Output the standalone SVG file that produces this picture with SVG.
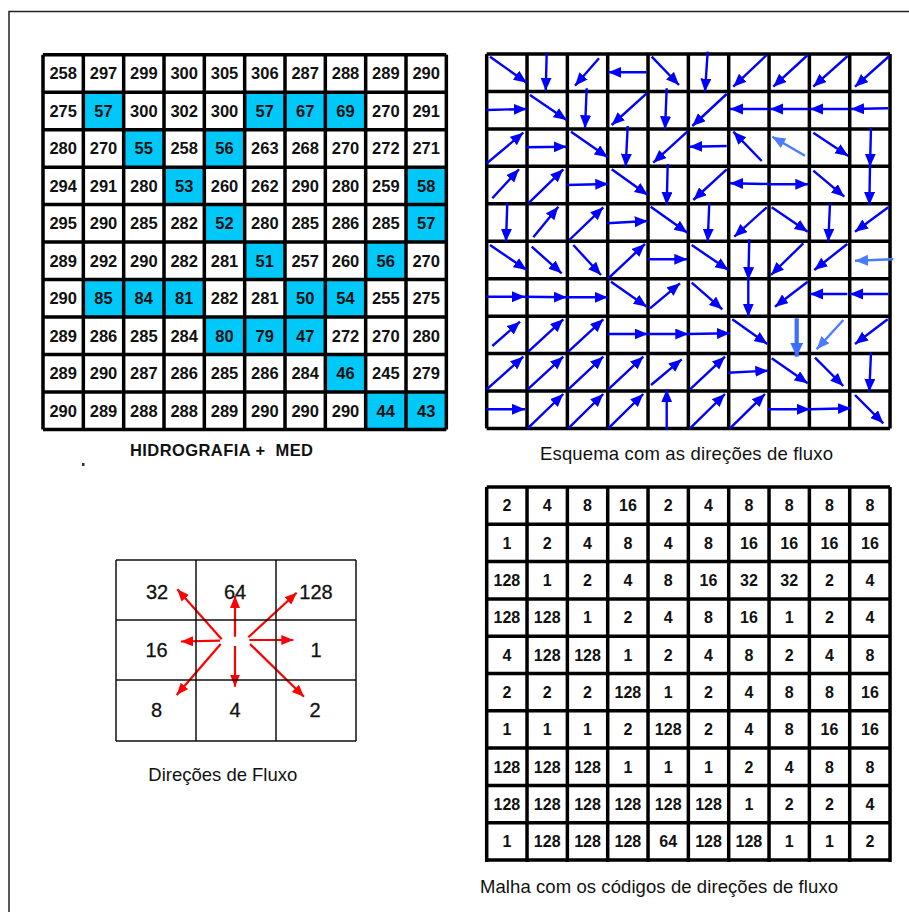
<svg xmlns="http://www.w3.org/2000/svg" width="909" height="912" viewBox="0 0 909 912">
<style>
text{font-family:"Liberation Sans",Arial,sans-serif;fill:#111}
.n{font-size:16.5px;font-weight:bold;text-anchor:middle}
.c{font-size:16px;font-weight:bold;text-anchor:middle}
.l{font-size:20px;text-anchor:middle;stroke:#111;stroke-width:0.3}
.cap{font-size:18.5px}
.grid{fill:none;stroke:#000;stroke-width:3.5}
.thin{fill:none;stroke:#111;stroke-width:1.5}
.cy{fill:#00C8F8}
.fa{stroke:#0000FF;stroke-width:2.4;marker-end:url(#hb)}
.fl{stroke:#4A7CFF;stroke-width:2.4;marker-end:url(#hl)}
.ft{stroke:#3C6EFF;stroke-width:4.2;marker-end:url(#ht)}
.ra{stroke:#FF0000;stroke-width:2.2;marker-end:url(#hr)}
</style>
<defs>
<marker id="hb" markerUnits="userSpaceOnUse" markerWidth="14" markerHeight="12" refX="13" refY="5.5" orient="auto"><path d="M0,0 L13,5.5 L0,11 z" fill="#0000FF"/></marker>
<marker id="hl" markerUnits="userSpaceOnUse" markerWidth="14" markerHeight="12" refX="13" refY="5.5" orient="auto"><path d="M0,0 L13,5.5 L0,11 z" fill="#4A7CFF"/></marker>
<marker id="ht" markerUnits="userSpaceOnUse" markerWidth="15" markerHeight="14" refX="14" refY="6.5" orient="auto"><path d="M0,0 L14,6.5 L0,13 z" fill="#3C6EFF"/></marker>
<marker id="hr" markerUnits="userSpaceOnUse" markerWidth="13" markerHeight="11" refX="12" refY="5" orient="auto"><path d="M0,0 L12,5 L0,10 z" fill="#FF0000"/></marker>
</defs>
<rect width="909" height="912" fill="#fff"/>
<path id="frame" d="M9,912 V11.5 H909" fill="none" stroke="#222" stroke-width="1.5"/>

<g id="elevation-grid">
<g id="elevation-cells">
<rect class="cy" x="83.33" y="92.18" width="40.33" height="37.48"/>
<rect class="cy" x="244.67" y="92.18" width="40.33" height="37.48"/>
<rect class="cy" x="285" y="92.18" width="40.33" height="37.48"/>
<rect class="cy" x="325.33" y="92.18" width="40.33" height="37.48"/>
<rect class="cy" x="123.67" y="129.66" width="40.33" height="37.48"/>
<rect class="cy" x="204.33" y="129.66" width="40.33" height="37.48"/>
<rect class="cy" x="164" y="167.14" width="40.33" height="37.48"/>
<rect class="cy" x="406" y="167.14" width="40.33" height="37.48"/>
<rect class="cy" x="204.33" y="204.62" width="40.33" height="37.48"/>
<rect class="cy" x="406" y="204.62" width="40.33" height="37.48"/>
<rect class="cy" x="244.67" y="242.1" width="40.33" height="37.48"/>
<rect class="cy" x="365.67" y="242.1" width="40.33" height="37.48"/>
<rect class="cy" x="83.33" y="279.58" width="40.33" height="37.48"/>
<rect class="cy" x="123.67" y="279.58" width="40.33" height="37.48"/>
<rect class="cy" x="164" y="279.58" width="40.33" height="37.48"/>
<rect class="cy" x="285" y="279.58" width="40.33" height="37.48"/>
<rect class="cy" x="325.33" y="279.58" width="40.33" height="37.48"/>
<rect class="cy" x="204.33" y="317.06" width="40.33" height="37.48"/>
<rect class="cy" x="244.67" y="317.06" width="40.33" height="37.48"/>
<rect class="cy" x="285" y="317.06" width="40.33" height="37.48"/>
<rect class="cy" x="325.33" y="354.54" width="40.33" height="37.48"/>
<rect class="cy" x="365.67" y="392.02" width="40.33" height="37.48"/>
<rect class="cy" x="406" y="392.02" width="40.33" height="37.48"/>
</g>
<path class="grid" d="M43,54.7V429.5M83.33,54.7V429.5M123.67,54.7V429.5M164,54.7V429.5M204.33,54.7V429.5M244.67,54.7V429.5M285,54.7V429.5M325.33,54.7V429.5M365.67,54.7V429.5M406,54.7V429.5M446.33,54.7V429.5M43,54.7H446.33M43,92.18H446.33M43,129.66H446.33M43,167.14H446.33M43,204.62H446.33M43,242.1H446.33M43,279.58H446.33M43,317.06H446.33M43,354.54H446.33M43,392.02H446.33M43,429.5H446.33"/>
<g id="elevation-values">
<text class="n" y="79.2"><tspan x="63.2">258</tspan><tspan x="103.5">297</tspan><tspan x="143.8">299</tspan><tspan x="184.2">300</tspan><tspan x="224.5">305</tspan><tspan x="264.8">306</tspan><tspan x="305.2">287</tspan><tspan x="345.5">288</tspan><tspan x="385.8">289</tspan><tspan x="426.2">290</tspan></text>
<text class="n" y="116.7"><tspan x="63.2">275</tspan><tspan x="103.5">57</tspan><tspan x="143.8">300</tspan><tspan x="184.2">302</tspan><tspan x="224.5">300</tspan><tspan x="264.8">57</tspan><tspan x="305.2">67</tspan><tspan x="345.5">69</tspan><tspan x="385.8">270</tspan><tspan x="426.2">291</tspan></text>
<text class="n" y="154.2"><tspan x="63.2">280</tspan><tspan x="103.5">270</tspan><tspan x="143.8">55</tspan><tspan x="184.2">258</tspan><tspan x="224.5">56</tspan><tspan x="264.8">263</tspan><tspan x="305.2">268</tspan><tspan x="345.5">270</tspan><tspan x="385.8">272</tspan><tspan x="426.2">271</tspan></text>
<text class="n" y="191.7"><tspan x="63.2">294</tspan><tspan x="103.5">291</tspan><tspan x="143.8">280</tspan><tspan x="184.2">53</tspan><tspan x="224.5">260</tspan><tspan x="264.8">262</tspan><tspan x="305.2">290</tspan><tspan x="345.5">280</tspan><tspan x="385.8">259</tspan><tspan x="426.2">58</tspan></text>
<text class="n" y="229.2"><tspan x="63.2">295</tspan><tspan x="103.5">290</tspan><tspan x="143.8">285</tspan><tspan x="184.2">282</tspan><tspan x="224.5">52</tspan><tspan x="264.8">280</tspan><tspan x="305.2">285</tspan><tspan x="345.5">286</tspan><tspan x="385.8">285</tspan><tspan x="426.2">57</tspan></text>
<text class="n" y="266.6"><tspan x="63.2">289</tspan><tspan x="103.5">292</tspan><tspan x="143.8">290</tspan><tspan x="184.2">282</tspan><tspan x="224.5">281</tspan><tspan x="264.8">51</tspan><tspan x="305.2">257</tspan><tspan x="345.5">260</tspan><tspan x="385.8">56</tspan><tspan x="426.2">270</tspan></text>
<text class="n" y="304.1"><tspan x="63.2">290</tspan><tspan x="103.5">85</tspan><tspan x="143.8">84</tspan><tspan x="184.2">81</tspan><tspan x="224.5">282</tspan><tspan x="264.8">281</tspan><tspan x="305.2">50</tspan><tspan x="345.5">54</tspan><tspan x="385.8">255</tspan><tspan x="426.2">275</tspan></text>
<text class="n" y="341.6"><tspan x="63.2">289</tspan><tspan x="103.5">286</tspan><tspan x="143.8">285</tspan><tspan x="184.2">284</tspan><tspan x="224.5">80</tspan><tspan x="264.8">79</tspan><tspan x="305.2">47</tspan><tspan x="345.5">272</tspan><tspan x="385.8">270</tspan><tspan x="426.2">280</tspan></text>
<text class="n" y="379.1"><tspan x="63.2">289</tspan><tspan x="103.5">290</tspan><tspan x="143.8">287</tspan><tspan x="184.2">286</tspan><tspan x="224.5">285</tspan><tspan x="264.8">286</tspan><tspan x="305.2">284</tspan><tspan x="345.5">46</tspan><tspan x="385.8">245</tspan><tspan x="426.2">279</tspan></text>
<text class="n" y="416.6"><tspan x="63.2">290</tspan><tspan x="103.5">289</tspan><tspan x="143.8">288</tspan><tspan x="184.2">288</tspan><tspan x="224.5">289</tspan><tspan x="264.8">290</tspan><tspan x="305.2">290</tspan><tspan x="345.5">290</tspan><tspan x="385.8">44</tspan><tspan x="426.2">43</tspan></text>
</g>
<text id="cap-elevation" x="130" y="456" font-size="16.5" font-weight="bold" textLength="183" xml:space="preserve">HIDROGRAFIA +  MED</text>
<rect x="82" y="463" width="2.5" height="3" fill="#333"/>
</g>

<g id="flow-grid">
<path class="grid" d="M486.7,54V428.5M527.03,54V428.5M567.37,54V428.5M607.7,54V428.5M648.03,54V428.5M688.37,54V428.5M728.7,54V428.5M769.03,54V428.5M809.37,54V428.5M849.7,54V428.5M890.03,54V428.5M486.7,54H890.03M486.7,91.45H890.03M486.7,128.9H890.03M486.7,166.35H890.03M486.7,203.8H890.03M486.7,241.25H890.03M486.7,278.7H890.03M486.7,316.15H890.03M486.7,353.6H890.03M486.7,391.05H890.03M486.7,428.5H890.03"/>
<text id="cap-flow" class="cap" x="540" y="460" textLength="293">Esquema com as direções de fluxo</text>
</g>

<g id="connectors">
<g id="flow-arrows">
<line class="fa" x1="490" y1="56.7" x2="526.7" y2="82.7"/>
<line class="fa" x1="546.7" y1="53.3" x2="545.7" y2="90.7"/>
<line class="fa" x1="599" y1="58.3" x2="575" y2="85.7"/>
<line class="fa" x1="646.7" y1="72.3" x2="608.3" y2="72.3"/>
<line class="fa" x1="651.7" y1="56.7" x2="679" y2="85"/>
<line class="fa" x1="707.7" y1="51.7" x2="705" y2="91.7"/>
<line class="fa" x1="766.7" y1="55" x2="733.3" y2="86.7"/>
<line class="fa" x1="807.7" y1="55" x2="773.3" y2="86.7"/>
<line class="fa" x1="847.7" y1="56" x2="813.3" y2="86.7"/>
<line class="fa" x1="889.3" y1="56" x2="855" y2="86.7"/>

<line class="fa" x1="486.7" y1="110" x2="526.7" y2="109"/>
<line class="fa" x1="530" y1="95" x2="566.7" y2="120"/>
<line class="fa" x1="586.7" y1="88.3" x2="585" y2="128.3"/>
<line class="fa" x1="646.7" y1="93.3" x2="611.7" y2="125"/>
<line class="fa" x1="666.7" y1="88.3" x2="665" y2="129.3"/>
<line class="fa" x1="726.7" y1="94" x2="692.3" y2="126"/>
<line class="fa" x1="768.3" y1="109" x2="730" y2="109"/>
<line class="fa" x1="808.3" y1="109" x2="770" y2="109"/>
<line class="fa" x1="848.3" y1="109" x2="810" y2="109"/>
<line class="fa" x1="888.3" y1="108.3" x2="851" y2="109"/>

<line class="fa" x1="486.7" y1="163.3" x2="523.3" y2="132.7"/>
<line class="fa" x1="525.7" y1="147.3" x2="566.7" y2="146.7"/>
<line class="fa" x1="571" y1="131.7" x2="607.7" y2="157.3"/>
<line class="fa" x1="627.7" y1="126" x2="625.7" y2="166.7"/>
<line class="fa" x1="687.3" y1="131.7" x2="653.3" y2="162.7"/>
<line class="fa" x1="726.7" y1="146" x2="689.3" y2="146.7"/>
<line class="fa" x1="761.7" y1="161" x2="733.3" y2="131.7"/>
<line class="fl" x1="805" y1="155.7" x2="772.3" y2="136.7"/>
<line class="fa" x1="813.3" y1="132.7" x2="848.3" y2="156"/>
<line class="fa" x1="871" y1="127.7" x2="870" y2="166.7"/>

<line class="fa" x1="492.3" y1="198.3" x2="519" y2="169.3"/>
<line class="fa" x1="528.3" y1="203.3" x2="563.3" y2="169.3"/>
<line class="fa" x1="566.7" y1="185" x2="608.3" y2="184"/>
<line class="fa" x1="611.7" y1="169.3" x2="647.7" y2="195"/>
<line class="fa" x1="667.7" y1="164" x2="666.7" y2="205"/>
<line class="fa" x1="726.7" y1="169.3" x2="693.3" y2="200"/>
<line class="fa" x1="767.7" y1="184" x2="730" y2="183.3"/>
<line class="fa" x1="768.3" y1="184.3" x2="808.3" y2="184.3"/>
<line class="fa" x1="813.3" y1="170.7" x2="844.3" y2="196.7"/>
<line class="fa" x1="870" y1="166.7" x2="869.3" y2="205"/>

<line class="fa" x1="507.3" y1="202.7" x2="506" y2="241.7"/>
<line class="fa" x1="533.3" y1="237.3" x2="558.3" y2="206.7"/>
<line class="fa" x1="569.3" y1="240" x2="603.3" y2="207.3"/>
<line class="fa" x1="606.7" y1="223.3" x2="647.7" y2="221"/>
<line class="fa" x1="650.7" y1="206.7" x2="687.3" y2="232.7"/>
<line class="fa" x1="709.3" y1="203.3" x2="707.7" y2="241.7"/>
<line class="fa" x1="766.7" y1="207.3" x2="734.3" y2="236.7"/>
<line class="fa" x1="771.7" y1="207.3" x2="807.7" y2="231.7"/>
<line class="fa" x1="830" y1="203.3" x2="828.3" y2="241.7"/>
<line class="fa" x1="888.3" y1="207.3" x2="855" y2="231.7"/>

<line class="fa" x1="490" y1="245" x2="526.7" y2="270"/>
<line class="fa" x1="531.7" y1="246.7" x2="561.7" y2="273.3"/>
<line class="fa" x1="573.3" y1="245" x2="601" y2="275"/>
<line class="fa" x1="608.3" y1="278.3" x2="645" y2="244"/>
<line class="fa" x1="647.7" y1="259.3" x2="687.3" y2="259.3"/>
<line class="fa" x1="691.7" y1="245" x2="728.3" y2="270"/>
<line class="fa" x1="749.3" y1="239.3" x2="748.3" y2="280"/>
<line class="fa" x1="803.3" y1="243.3" x2="771" y2="275"/>
<line class="fa" x1="847.3" y1="244" x2="814.3" y2="270"/>
<line class="fl" x1="893.3" y1="259.3" x2="855" y2="260.7"/>

<line class="fa" x1="486.7" y1="296.7" x2="525" y2="296.7"/>
<line class="fa" x1="525" y1="296.7" x2="566.7" y2="297.3"/>
<line class="fa" x1="566.7" y1="297.3" x2="607.7" y2="297.3"/>
<line class="fa" x1="611" y1="281.7" x2="646.7" y2="306.7"/>
<line class="fa" x1="650" y1="308.3" x2="680" y2="283.3"/>
<line class="fa" x1="691.7" y1="282.7" x2="722.3" y2="309.3"/>
<line class="fa" x1="748.3" y1="280" x2="748.3" y2="316.7"/>
<line class="fa" x1="807.7" y1="281.7" x2="775" y2="306.7"/>
<line class="fa" x1="847.3" y1="294" x2="810" y2="294"/>
<line class="fa" x1="888.3" y1="294" x2="850" y2="294"/>

<line class="fa" x1="492.3" y1="346" x2="520" y2="321.7"/>
<line class="fa" x1="528.3" y1="351.7" x2="563.3" y2="319.3"/>
<line class="fa" x1="568.3" y1="351.7" x2="603.3" y2="319.3"/>
<line class="fa" x1="607.7" y1="334" x2="647.7" y2="334"/>
<line class="fa" x1="647.7" y1="334" x2="688.3" y2="334"/>
<line class="fa" x1="688.3" y1="334" x2="730" y2="333.3"/>
<line class="fa" x1="732.3" y1="319.3" x2="767.3" y2="344"/>
<line class="ft" x1="796.7" y1="318.3" x2="796.7" y2="356.7"/>
<line class="fl" x1="843.3" y1="320" x2="816.7" y2="349.3"/>
<line class="fa" x1="887.7" y1="319.3" x2="855" y2="344"/>

<line class="fa" x1="486.7" y1="389.3" x2="523.3" y2="356.7"/>
<line class="fa" x1="527.7" y1="389.3" x2="563.3" y2="356.7"/>
<line class="fa" x1="568.3" y1="389.3" x2="603.3" y2="356.7"/>
<line class="fa" x1="608.3" y1="389.3" x2="643.3" y2="356.7"/>
<line class="fa" x1="651" y1="385" x2="681.7" y2="359.3"/>
<line class="fa" x1="690" y1="389.3" x2="725" y2="356.7"/>
<line class="fa" x1="727.7" y1="372.7" x2="768.3" y2="370.7"/>
<line class="fa" x1="771.7" y1="358.3" x2="807.7" y2="383.3"/>
<line class="fa" x1="815" y1="357.7" x2="843.3" y2="386"/>
<line class="fa" x1="871" y1="352.7" x2="869.3" y2="391.7"/>

<line class="fa" x1="486.7" y1="409.3" x2="525" y2="409.3"/>
<line class="fa" x1="527.7" y1="428.3" x2="563.3" y2="394"/>
<line class="fa" x1="568.3" y1="428.3" x2="603.3" y2="394"/>
<line class="fa" x1="608.3" y1="428.3" x2="643.3" y2="394"/>
<line class="fa" x1="666.7" y1="430" x2="666.7" y2="389.3"/>
<line class="fa" x1="690" y1="428.3" x2="725" y2="394"/>
<line class="fa" x1="730" y1="428.3" x2="765" y2="394"/>
<line class="fa" x1="767.7" y1="409.3" x2="810" y2="409.3"/>
<line class="fa" x1="810" y1="409.3" x2="851" y2="408.3"/>
<line class="fa" x1="855" y1="395" x2="883.3" y2="423.3"/>
</g>
<g id="legend-arrows">
<line class="ra" x1="221.7" y1="639.3" x2="177.3" y2="589.3"/>
<line class="ra" x1="235" y1="636.7" x2="235" y2="596"/>
<line class="ra" x1="248.3" y1="637.3" x2="296.7" y2="592.7"/>
<line class="ra" x1="220" y1="640.7" x2="181" y2="641.5"/>
<line class="ra" x1="249.3" y1="640" x2="293.3" y2="640"/>
<line class="ra" x1="220.7" y1="644" x2="176.7" y2="695"/>
<line class="ra" x1="235" y1="646" x2="235" y2="686.7"/>
<line class="ra" x1="250" y1="644" x2="304" y2="696.7"/>
</g>
</g>

<g id="legend">
<path class="thin" d="M116,560H356M116,620H356M116,680H356M116,741H356M116,560V741M196,560V741M276,560V741M356,560V741"/>
<text class="l" y="599.3"><tspan x="157">32</tspan><tspan x="235">64</tspan><tspan x="316">128</tspan></text>
<text class="l" y="657.3"><tspan x="156.5">16</tspan><tspan x="316">1</tspan></text>
<text class="l" y="717.3"><tspan x="156.5">8</tspan><tspan x="235">4</tspan><tspan x="315">2</tspan></text>
<text id="cap-legend" class="cap" x="148.3" y="780.5" textLength="149">Direções de Fluxo</text>
</g>

<g id="code-grid">
<path class="grid" d="M486.7,487V862M527.03,487V862M567.37,487V862M607.7,487V862M648.03,487V862M688.37,487V862M728.7,487V862M769.03,487V862M809.37,487V862M849.7,487V862M890.03,487V862M486.7,487H890.03M486.7,524.3H890.03M486.7,561.6H890.03M486.7,598.9H890.03M486.7,636.2H890.03M486.7,673.5H890.03M486.7,710.8H890.03M486.7,748.1H890.03M486.7,785.4H890.03M486.7,822.7H890.03M486.7,860H890.03"/>
<g id="code-values">
<text class="c" y="511.4"><tspan x="506.9">2</tspan><tspan x="547.2">4</tspan><tspan x="587.5">8</tspan><tspan x="627.9">16</tspan><tspan x="668.2">2</tspan><tspan x="708.5">4</tspan><tspan x="748.9">8</tspan><tspan x="789.2">8</tspan><tspan x="829.5">8</tspan><tspan x="869.9">8</tspan></text>
<text class="c" y="548.7"><tspan x="506.9">1</tspan><tspan x="547.2">2</tspan><tspan x="587.5">4</tspan><tspan x="627.9">8</tspan><tspan x="668.2">4</tspan><tspan x="708.5">8</tspan><tspan x="748.9">16</tspan><tspan x="789.2">16</tspan><tspan x="829.5">16</tspan><tspan x="869.9">16</tspan></text>
<text class="c" y="586"><tspan x="506.9">128</tspan><tspan x="547.2">1</tspan><tspan x="587.5">2</tspan><tspan x="627.9">4</tspan><tspan x="668.2">8</tspan><tspan x="708.5">16</tspan><tspan x="748.9">32</tspan><tspan x="789.2">32</tspan><tspan x="829.5">2</tspan><tspan x="869.9">4</tspan></text>
<text class="c" y="623.3"><tspan x="506.9">128</tspan><tspan x="547.2">128</tspan><tspan x="587.5">1</tspan><tspan x="627.9">2</tspan><tspan x="668.2">4</tspan><tspan x="708.5">8</tspan><tspan x="748.9">16</tspan><tspan x="789.2">1</tspan><tspan x="829.5">2</tspan><tspan x="869.9">4</tspan></text>
<text class="c" y="660.6"><tspan x="506.9">4</tspan><tspan x="547.2">128</tspan><tspan x="587.5">128</tspan><tspan x="627.9">1</tspan><tspan x="668.2">2</tspan><tspan x="708.5">4</tspan><tspan x="748.9">8</tspan><tspan x="789.2">2</tspan><tspan x="829.5">4</tspan><tspan x="869.9">8</tspan></text>
<text class="c" y="697.9"><tspan x="506.9">2</tspan><tspan x="547.2">2</tspan><tspan x="587.5">2</tspan><tspan x="627.9">128</tspan><tspan x="668.2">1</tspan><tspan x="708.5">2</tspan><tspan x="748.9">4</tspan><tspan x="789.2">8</tspan><tspan x="829.5">8</tspan><tspan x="869.9">16</tspan></text>
<text class="c" y="735.2"><tspan x="506.9">1</tspan><tspan x="547.2">1</tspan><tspan x="587.5">1</tspan><tspan x="627.9">2</tspan><tspan x="668.2">128</tspan><tspan x="708.5">2</tspan><tspan x="748.9">4</tspan><tspan x="789.2">8</tspan><tspan x="829.5">16</tspan><tspan x="869.9">16</tspan></text>
<text class="c" y="772.5"><tspan x="506.9">128</tspan><tspan x="547.2">128</tspan><tspan x="587.5">128</tspan><tspan x="627.9">1</tspan><tspan x="668.2">1</tspan><tspan x="708.5">1</tspan><tspan x="748.9">2</tspan><tspan x="789.2">4</tspan><tspan x="829.5">8</tspan><tspan x="869.9">8</tspan></text>
<text class="c" y="809.8"><tspan x="506.9">128</tspan><tspan x="547.2">128</tspan><tspan x="587.5">128</tspan><tspan x="627.9">128</tspan><tspan x="668.2">128</tspan><tspan x="708.5">128</tspan><tspan x="748.9">1</tspan><tspan x="789.2">2</tspan><tspan x="829.5">2</tspan><tspan x="869.9">4</tspan></text>
<text class="c" y="847.1"><tspan x="506.9">1</tspan><tspan x="547.2">128</tspan><tspan x="587.5">128</tspan><tspan x="627.9">128</tspan><tspan x="668.2">64</tspan><tspan x="708.5">128</tspan><tspan x="748.9">128</tspan><tspan x="789.2">1</tspan><tspan x="829.5">1</tspan><tspan x="869.9">2</tspan></text>
</g>
<text id="cap-codes" class="cap" x="480" y="893" textLength="358">Malha com os códigos de direções de fluxo</text>
</g>
</svg>
